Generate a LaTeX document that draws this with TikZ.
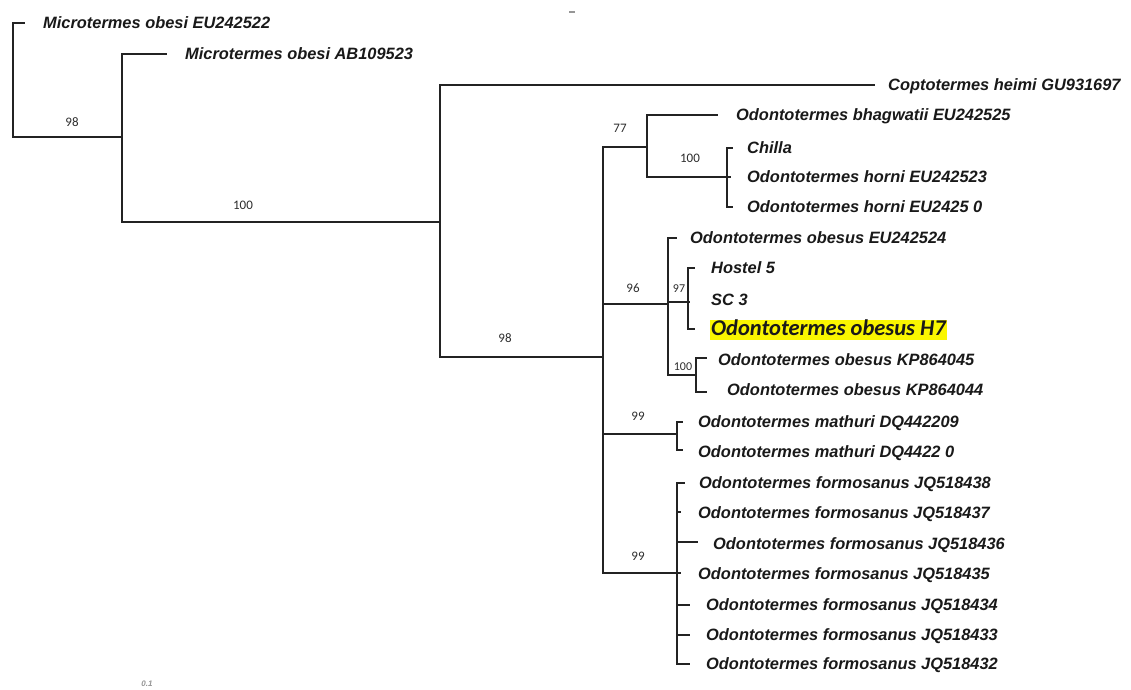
\documentclass[tikz,border=0pt]{standalone}
\usepackage{fontspec}
\setmainfont{Liberation Sans}
\newfontfamily\calfont{Carlito}
\definecolor{ln}{RGB}{35,35,35}
\definecolor{tx}{RGB}{25,25,25}
\definecolor{bt}{RGB}{45,45,45}
\definecolor{hl}{RGB}{250,246,0}
\definecolor{sc}{RGB}{150,150,150}
\begin{document}
\begin{tikzpicture}[x=1pt,y=-1pt,
  branch/.style={draw=ln, line width=1.7pt},
  leaf/.style={anchor=base west, inner sep=0pt, text=tx,
    font=\fontsize{16.4}{18}\selectfont\bfseries\itshape},
  boot/.style={inner sep=0pt, text=bt, font=\calfont\fontsize{13}{14}\selectfont},
  smallboot/.style={inner sep=0pt, text=bt, font=\calfont\fontsize{12}{13}\selectfont}]
\useasboundingbox[fill=white] (0,0) rectangle (1131,689);

% internal nodes
\coordinate (r) at (13,80);
\coordinate (a) at (122,137);
\coordinate (b) at (440,222);
\coordinate (c) at (603,357);
\coordinate (d) at (647,147);
\coordinate (e) at (727,177);
\coordinate (f) at (668,304);
\coordinate (g) at (688,302);
\coordinate (h) at (696,375);
\coordinate (i) at (677,434);
\coordinate (j) at (677,573);

% leaf tips
\coordinate (l1) at (25,23);
\coordinate (l2) at (167,54);
\coordinate (l3) at (875,85);
\coordinate (l4) at (718,115);
\coordinate (l5) at (733,148);
\coordinate (l6) at (731,177);
\coordinate (l7) at (733,207);
\coordinate (l8) at (677,238);
\coordinate (l9) at (695,268);
\coordinate (l10) at (690,302);
\coordinate (l11) at (695,329);
\coordinate (l12) at (707,358);
\coordinate (l13) at (707,392);
\coordinate (l14) at (683,422);
\coordinate (l15) at (683,450);
\coordinate (l16) at (685,483);
\coordinate (l17) at (681,512);
\coordinate (l18) at (698,542);
\coordinate (l19) at (681,573);
\coordinate (l20) at (690,605);
\coordinate (l21) at (690,635);
\coordinate (l22) at (690,664);

% branches
\foreach \p/\q in {r/l1, r/a, a/l2, a/b, b/l3, b/c, c/d, c/f, c/i, c/j,
  d/l4, d/e, e/l5, e/l6, e/l7, f/l8, f/g, f/h, g/l9, g/l10, g/l11,
  h/l12, h/l13, i/l14, i/l15, j/l16, j/l17, j/l18, j/l19, j/l20, j/l21, j/l22}
  \draw[branch] (\p) |- (\q);

% leaf labels
\node[leaf] (t1) at (43,28.8) {Microtermes obesi EU242522};
\node[leaf] (t2) at (185,59.8) {Microtermes obesi AB109523};
\node[leaf] (t3) at (888,90.8) {Coptotermes heimi GU931697};
\node[leaf] (t4) at (736,120.8) {Odontotermes bhagwatii EU242525};
\node[leaf] (t5) at (747,153.8) {Chilla};
\node[leaf] (t6) at (747,182.8) {Odontotermes horni EU242523};
\node[leaf] (t7) at (747,212.8) {Odontotermes horni EU2425 0};
\node[leaf] (t8) at (690,243.8) {Odontotermes obesus EU242524};
\node[leaf] (t9) at (711,273.8) {Hostel 5};
\node[leaf] (t10) at (711,305.8) {SC 3};
\node[anchor=base west, fill=hl, inner xsep=1pt, inner ysep=0pt,
  text height=16pt, text depth=4pt, text=tx,
  font=\calfont\fontsize{22.5}{24}\selectfont\bfseries\itshape] (t11) at (710,335.5) {Odontotermes obesus H7};
\node[leaf] (t12) at (718,365.8) {Odontotermes obesus KP864045};
\node[leaf] (t13) at (727,395.8) {Odontotermes obesus KP864044};
\node[leaf] (t14) at (698,427.8) {Odontotermes mathuri DQ442209};
\node[leaf] (t15) at (698,457.8) {Odontotermes mathuri DQ4422 0};
\node[leaf] (t16) at (699,488.8) {Odontotermes formosanus JQ518438};
\node[leaf] (t17) at (698,518.8) {Odontotermes formosanus JQ518437};
\node[leaf] (t18) at (713,549.8) {Odontotermes formosanus JQ518436};
\node[leaf] (t19) at (698,579.8) {Odontotermes formosanus JQ518435};
\node[leaf] (t20) at (706,610.8) {Odontotermes formosanus JQ518434};
\node[leaf] (t21) at (706,640.8) {Odontotermes formosanus JQ518433};
\node[leaf] (t22) at (706,669.8) {Odontotermes formosanus JQ518432};

% bootstrap values
\node[boot] (b1) at (72,122) {98};
\node[boot] (b2) at (243,205) {100};
\node[boot] (b3) at (505,338) {98};
\node[boot] (b4) at (620,128) {77};
\node[boot] (b5) at (690,158) {100};
\node[boot] (b6) at (633,288) {96};
\node[smallboot] (b7) at (679,289) {97};
\node[smallboot] (b8) at (683,367) {100};
\node[boot] (b9) at (638,416) {99};
\node[boot] (b10) at (638,556) {99};

% scale
\node[inner sep=0pt, text=sc, font=\fontsize{8}{9}\selectfont\bfseries\itshape] (s1) at (147,684) {0.1};
\draw[sc, line width=2.2pt] (569,12) -- (575,12);
\end{tikzpicture}
\end{document}
